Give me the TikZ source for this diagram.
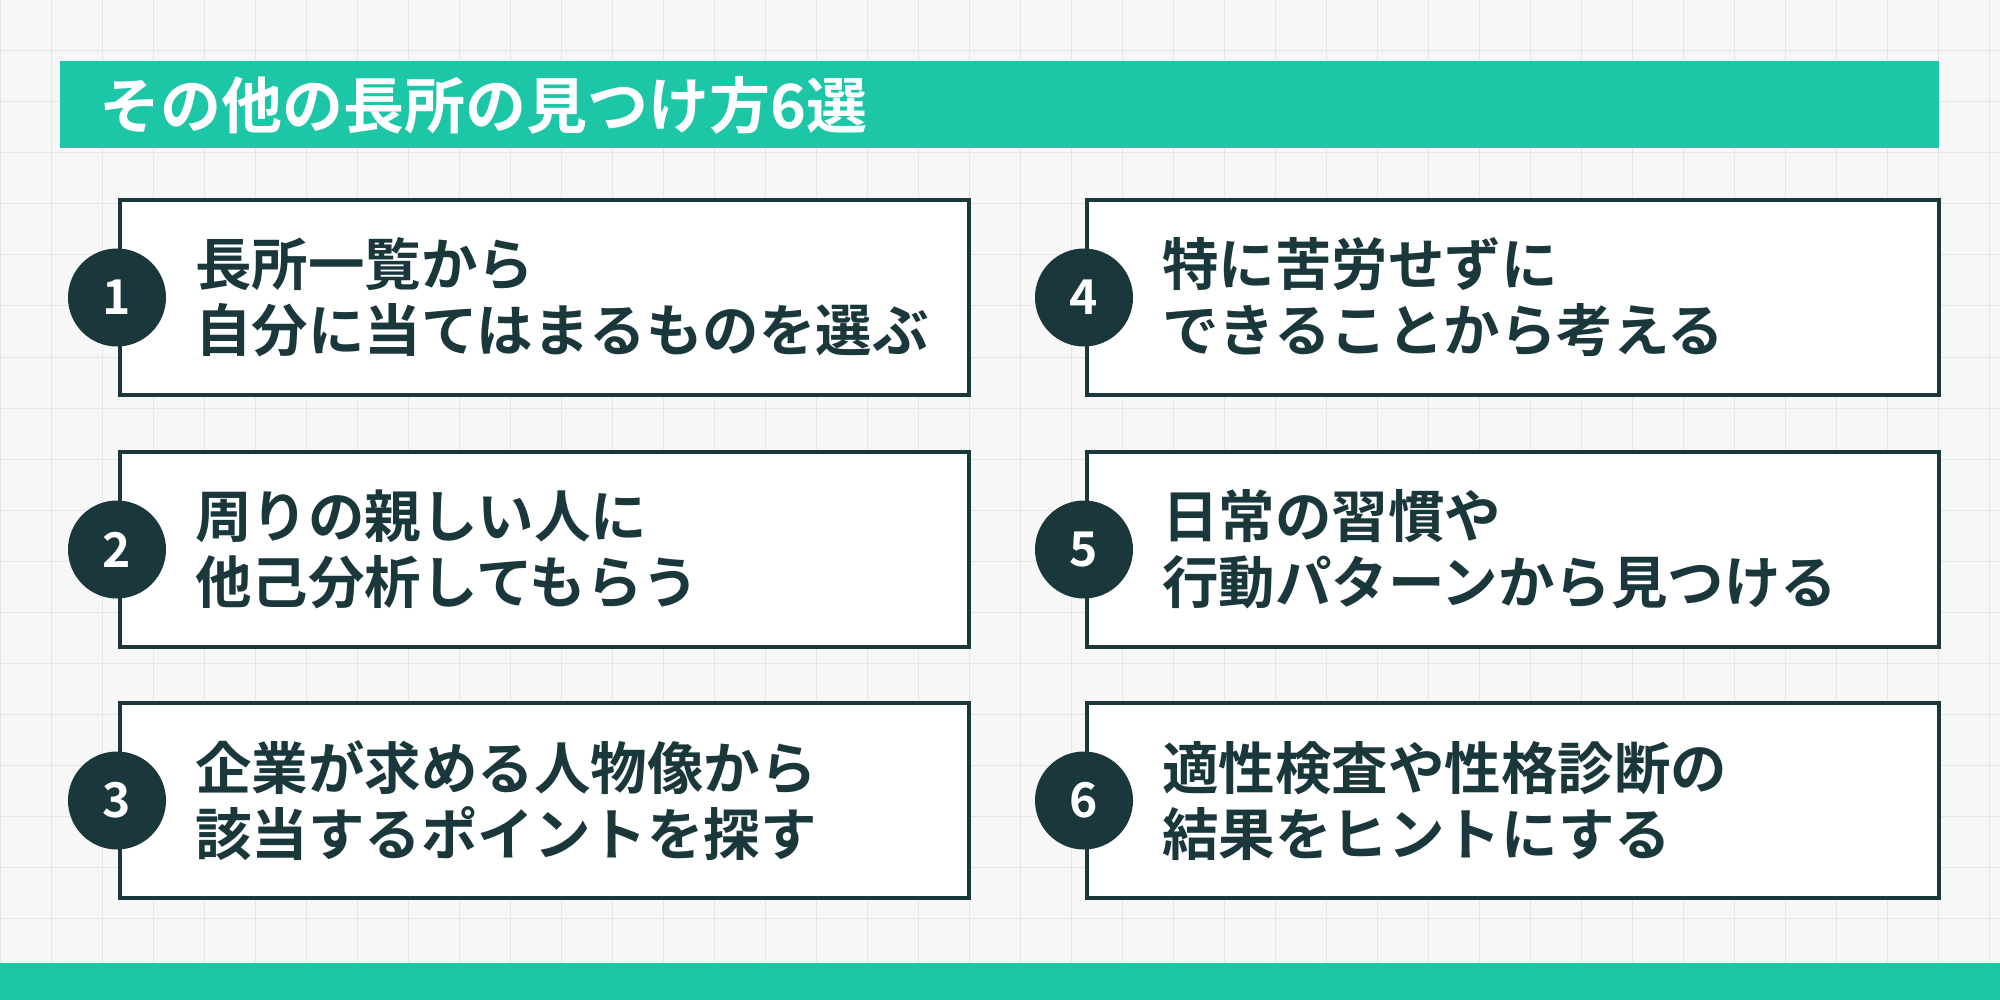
\documentclass[tikz,border=0pt]{standalone}
\usepackage{fontspec}
\newfontfamily\jp{Noto Sans CJK JP Bold}
\definecolor{teal1}{HTML}{1EC6A8}
\definecolor{dark}{HTML}{1A373C}
\definecolor{bg}{HTML}{F7F7F7}
\definecolor{gridc}{HTML}{E6E6E6}
\begin{document}
\begin{tikzpicture}[x=1pt,y=-1pt,
 card/.style={draw=dark,line width=3.5pt,fill=white},
 num/.style={circle,fill=dark,minimum size=98pt,inner sep=0pt,text=white,font=\jp\fontsize{48}{48}\selectfont},
 txt/.style={anchor=west,text=dark,align=left,font=\jp\fontsize{56.5}{66}\selectfont,inner sep=0pt}]
\fill[bg] (0,0) rectangle (2000,1000);
\useasboundingbox (0,0) rectangle (2000,1000);
\foreach \x in {0,51,...,2000} \draw[gridc,line width=1pt] (\x,0) -- (\x,1000);
\foreach \y in {0,51,...,1000} \draw[gridc,line width=1pt] (0,\y) -- (2000,\y);
\fill[teal1] (60,61) rectangle (1939,148);
\node[anchor=west,text=white,font=\jp\fontsize{61}{61}\selectfont,inner sep=0pt] (title) at (99,105) {その他の長所の見つけ方6選};
\fill[teal1] (0,963) rectangle (2000,1000);
\foreach \n/\xa/\xb/\ya/\yb/\t in {
 1/120/969/200/395/{長所一覧から\\自分に当てはまるものを選ぶ},
 2/120/969/452/647/{周りの親しい人に\\他己分析してもらう},
 3/120/969/703/898/{企業が求める人物像から\\該当するポイントを探す},
 4/1087/1939/200/395/{特に苦労せずに\\できることから考える},
 5/1087/1939/452/647/{日常の習慣や\\行動パターンから見つける},
 6/1087/1939/703/898/{適性検査や性格診断の\\結果をヒントにする}}{
 \draw[card] (\xa,\ya) rectangle (\xb,\yb);
 \node[num] (c\n) at (\xa-3,{(\ya+\yb)/2}) {\n};
 \node[txt] (t\n) at (\xa+75,{(\ya+\yb)/2}) {\t};
}
\end{tikzpicture}
\end{document}
